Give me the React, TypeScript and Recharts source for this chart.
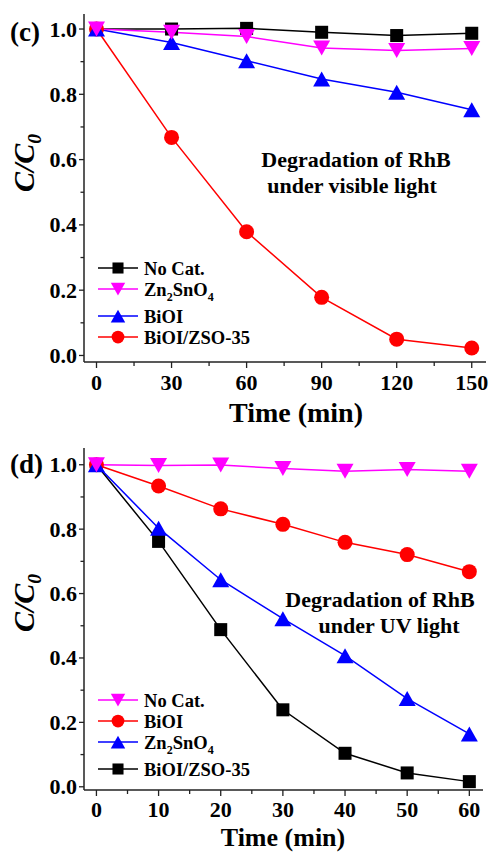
import React from 'react';
import { LineChart, Line, XAxis, YAxis, Legend } from 'recharts';

// panel (c): visible light
const timeVis = [0, 30, 60, 90, 120, 150];
const noCatVis = [1.0, 1.0, 1.002, 0.99, 0.98, 0.987];
const znVis = [1.0, 0.99, 0.977, 0.942, 0.934, 0.94];
const bioiVis = [1.0, 0.959, 0.903, 0.847, 0.806, 0.753];
const compVis = [1.0, 0.668, 0.379, 0.178, 0.05, 0.023];

// panel (d): UV light
const timeUv = [0, 10, 20, 30, 40, 50, 60];
const noCatUv = [1.0, 0.998, 0.999, 0.988, 0.98, 0.985, 0.98];
const bioiUv = [1.0, 0.934, 0.863, 0.815, 0.759, 0.721, 0.668];
const znUv = [1.0, 0.803, 0.643, 0.522, 0.407, 0.274, 0.164];
const compUv = [1.0, 0.762, 0.488, 0.239, 0.104, 0.043, 0.016];

const xTicksVis = [0, 15, 30, 45, 60, 75, 90, 105, 120, 135, 150];
const xTicksUv = [0, 5, 10, 15, 20, 25, 30, 35, 40, 45, 50, 55, 60];
const yTicks = [0, 0.1, 0.2, 0.3, 0.4, 0.5, 0.6, 0.7, 0.8, 0.9, 1.0];

const FONT = '"Liberation Serif", "Times New Roman", Times, serif';
const AXIS = '#222';

type Shape = 'square' | 'down' | 'up' | 'circle';
interface Series { key: string; name: string; color: string; shape: Shape }

// legend order
const visSeries: Series[] = [
  { key: 'noCat', name: 'No Cat.', color: '#000000', shape: 'square' },
  { key: 'zn', name: 'Zn2SnO4', color: '#ff00ff', shape: 'down' },
  { key: 'bioi', name: 'BiOI', color: '#0000ff', shape: 'up' },
  { key: 'comp', name: 'BiOI/ZSO-35', color: '#ff0000', shape: 'circle' },
];
const uvSeries: Series[] = [
  { key: 'noCat', name: 'No Cat.', color: '#ff00ff', shape: 'down' },
  { key: 'bioi', name: 'BiOI', color: '#ff0000', shape: 'circle' },
  { key: 'zn', name: 'Zn2SnO4', color: '#0000ff', shape: 'up' },
  { key: 'comp', name: 'BiOI/ZSO-35', color: '#000000', shape: 'square' },
];
// drawing order (last on top)
const visDrawOrder = ['noCat', 'comp', 'bioi', 'zn'];
const uvDrawOrder = ['comp', 'bioi', 'zn', 'noCat'];

const visData = timeVis.map((t, i) => ({
  t, noCat: noCatVis[i], zn: znVis[i], bioi: bioiVis[i], comp: compVis[i],
}));
const uvData = timeUv.map((t, i) => ({
  t, noCat: noCatUv[i], bioi: bioiUv[i], zn: znUv[i], comp: compUv[i],
}));

function Marker({ cx, cy, shape, color, s = 1 }: { cx: number; cy: number; shape: Shape; color: string; s?: number }) {
  if (shape === 'square') {
    const h = 6.5 * s;
    return <rect x={cx - h} y={cy - h} width={2 * h} height={2 * h} fill={color} />;
  }
  if (shape === 'circle') return <circle cx={cx} cy={cy} r={7.5 * s} fill={color} />;
  const w = 8.5 * s, h = 7.5 * s;
  const pts = shape === 'up'
    ? `${cx - w},${cy + h} ${cx + w},${cy + h} ${cx},${cy - h}`
    : `${cx - w},${cy - h} ${cx + w},${cy - h} ${cx},${cy + h}`;
  return <polygon points={pts} fill={color} />;
}

// digits right after a letter become subscripts (Zn2SnO4, C/C0)
function chem(name: string, shift = 5) {
  const out: React.ReactNode[] = [];
  let sub = false;
  for (let i = 0; i < name.length; i++) {
    const c = name[i];
    const isSub = /\d/.test(c) && i > 0 && /[A-Za-z]/.test(name[i - 1]);
    if (isSub) {
      out.push(<tspan key={i} dy={shift} fontSize="65%">{c}</tspan>);
      sub = true;
    } else {
      out.push(<tspan key={i} dy={sub ? -shift : 0}>{c}</tspan>);
      sub = false;
    }
  }
  return out;
}

function xTick(step: number, side: 'bottom' | 'top', labelGap: number) {
  return (props: any) => {
    const { x, y, payload } = props;
    const v = payload.value;
    const major = Math.round(v) % step === 0;
    const len = side === 'bottom' ? (major ? 6 : 4) : (major ? 3 : 2);
    const dir = side === 'bottom' ? 1 : -1;
    return (
      <g>
        <line x1={x} x2={x} y1={y} y2={y + dir * len} stroke={AXIS} strokeWidth={1.3} />
        {side === 'bottom' && major && (
          <text x={x} y={y + labelGap} textAnchor="middle" fontFamily={FONT} fontWeight="bold" fontSize={22} fill="#000">{v}</text>
        )}
      </g>
    );
  };
}

function yTick(side: 'left' | 'right') {
  return (props: any) => {
    const { x, y, payload } = props;
    const v = payload.value;
    const major = Math.round(v * 10) % 2 === 0;
    const len = side === 'left' ? (major ? 5 : 3.5) : (major ? 3 : 2);
    const dir = side === 'left' ? -1 : 1;
    return (
      <g>
        <line x1={x} x2={x + dir * len} y1={y} y2={y} stroke={AXIS} strokeWidth={1.3} />
        {side === 'left' && major && (
          <text x={x - 7} y={y + 7.5} textAnchor="end" fontFamily={FONT} fontWeight="bold" fontSize={22} fill="#000">{v.toFixed(1)}</text>
        )}
      </g>
    );
  };
}

function LegendBox({ series }: { series: Series[] }) {
  let y = 13;
  const rows = series.map((s, i) => {
    if (i > 0) y += 21 + (/\d/.test(series[i - 1].name.replace(/-\d+/, '')) ? 6 : 0);
    return (
      <g key={s.key}>
        <line x1={8} x2={48} y1={y} y2={y} stroke={s.color} strokeWidth={1.5} />
        <Marker cx={28} cy={y} shape={s.shape} color={s.color} s={0.85} />
        <text x={54} y={y + 6.5} fontFamily={FONT} fontWeight="bold" fontSize={18.5} fill="#000">{chem(s.name, 5)}</text>
      </g>
    );
  });
  return <svg width={170} height={100} style={{ display: 'block', overflow: 'visible' }}>{rows}</svg>;
}

interface PanelProps {
  data: any[];
  series: Series[];
  order: string[];
  xTicks: number[];
  xDomain: [number, number];
  yDomain: [number, number];
  step: number;
  width: number;
  height: number;
  right: number;
  xAxisHeight: number;
  legendTop: number;
  labelGap: number;
}

function Panel(p: PanelProps) {
  return (
    <LineChart width={p.width} height={p.height} data={p.data} margin={{ top: 14, right: p.right, bottom: 0, left: 0 }}>
      <XAxis dataKey="t" type="number" domain={p.xDomain} ticks={p.xTicks} interval={0} allowDataOverflow
        height={p.xAxisHeight} tickSize={0} tickMargin={0} tickLine={false}
        axisLine={{ stroke: AXIS, strokeWidth: 1.5 }} tick={xTick(p.step, 'bottom', p.labelGap)} />
      <XAxis xAxisId="top" orientation="top" dataKey="t" type="number" domain={p.xDomain} ticks={p.xTicks} interval={0}
        allowDataOverflow height={0} tickSize={0} tickMargin={0} tickLine={false}
        axisLine={{ stroke: AXIS, strokeWidth: 1.5 }} tick={xTick(p.step, 'top', 0)} />
      <YAxis type="number" domain={p.yDomain} ticks={yTicks} interval={0} allowDataOverflow width={84}
        tickSize={0} tickMargin={0} tickLine={false}
        axisLine={{ stroke: AXIS, strokeWidth: 1.5 }} tick={yTick('left')} />
      <YAxis yAxisId="right" orientation="right" type="number" domain={p.yDomain} ticks={yTicks} interval={0}
        allowDataOverflow width={0} tickSize={0} tickMargin={0} tickLine={false}
        axisLine={{ stroke: AXIS, strokeWidth: 1.5 }} tick={yTick('right')} />
      {p.order.map((k) => {
        const s = p.series.find((x) => x.key === k)!;
        return (
          <Line key={k} dataKey={k} name={s.name} stroke={s.color} strokeWidth={1.5} isAnimationActive={false}
            activeDot={false}
            dot={(d: any) => <Marker key={`${k}-${d.index}`} cx={d.cx} cy={d.cy} shape={s.shape} color={s.color} />} />
        );
      })}
      <Legend layout="vertical" align="center" verticalAlign="middle"
        wrapperStyle={{ left: 90, top: p.legendTop, width: 170, height: 100 }}
        content={() => <LegendBox series={p.series} />} />
    </LineChart>
  );
}

const textStyle = { fontFamily: FONT, fontWeight: 'bold' as const, fill: '#000' };

export default function App() {
  return (
    <div style={{ position: 'absolute', left: 0, top: 0, width: 491, height: 852, background: '#fff' }}>
      <div style={{ position: 'absolute', left: 0, top: 0 }}>
        <Panel data={visData} series={visSeries} order={visDrawOrder} xTicks={xTicksVis} xDomain={[-5, 155.7]}
          yDomain={[-0.02, 1.046]} step={30} width={491} height={430} right={5} xAxisHeight={68} legendTop={255}
          labelGap={28} />
        <svg width={491} height={430} style={{ position: 'absolute', left: 0, top: 0, pointerEvents: 'none' }}>
          <text x={10} y={41} fontSize={27} {...textStyle}>(c)</text>
          <text transform="rotate(-90 34 163)" x={34} y={163} textAnchor="middle" fontSize={30} fontStyle="italic" {...textStyle}>
            {chem('C/C0', 7)}
          </text>
          <text x={296} y={422} textAnchor="middle" fontSize={28} {...textStyle}>Time (min)</text>
          <text x={356} y={167} textAnchor="middle" fontSize={22} {...textStyle}>Degradation of RhB</text>
          <text x={352} y={193} textAnchor="middle" fontSize={22} {...textStyle}>under visible light</text>
        </svg>
      </div>
      <div style={{ position: 'absolute', left: 0, top: 434 }}>
        <Panel data={uvData} series={uvSeries} order={uvDrawOrder} xTicks={xTicksUv} xDomain={[-2, 62.2]}
          yDomain={[-0.01, 1.052]} step={10} width={491} height={418} right={8} xAxisHeight={62} legendTop={253}
          labelGap={27} />
        <svg width={491} height={418} style={{ position: 'absolute', left: 0, top: 0, pointerEvents: 'none' }}>
          <text x={10} y={39} fontSize={27} {...textStyle}>(d)</text>
          <text transform="rotate(-90 34 169)" x={34} y={169} textAnchor="middle" fontSize={30} fontStyle="italic" {...textStyle}>
            {chem('C/C0', 7)}
          </text>
          <text x={283} y={412} textAnchor="middle" fontSize={26} {...textStyle}>Time (min)</text>
          <text x={380} y={173} textAnchor="middle" fontSize={22} {...textStyle}>Degradation of RhB</text>
          <text x={389} y={199} textAnchor="middle" fontSize={22} {...textStyle}>under UV light</text>
        </svg>
      </div>
    </div>
  );
}
